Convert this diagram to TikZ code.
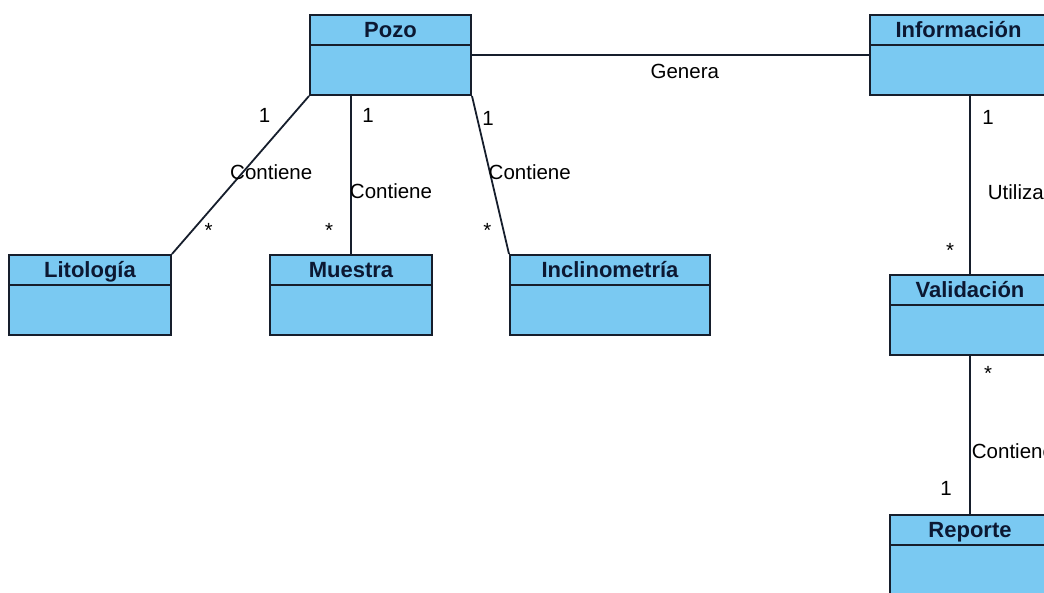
\documentclass[tikz,border=0pt]{standalone}
\usepackage{fontspec}
\setmainfont{Liberation Sans}
\definecolor{celeste}{RGB}{122,201,242}
\definecolor{linea}{RGB}{22,30,44}
\definecolor{nombre}{RGB}{12,24,50}

\begin{document}
\begin{tikzpicture}
		[x=1pt, y=-1pt,
		 clase/.style= {draw=linea, fill=celeste, line width=2pt, anchor=north west,
			inner sep=0pt, text height=22.5pt, text depth=57.5pt, text=nombre,
			font=\fontsize{22}{24}\selectfont\bfseries,
			path picture={\draw[linea, line width=2pt]
				([yshift=-29.5pt]path picture bounding box.north west) --
				([yshift=-29.5pt]path picture bounding box.north east);}},
		 rel/.style= {draw=linea, line width=1.8pt},
		 rol/.style= {font=\fontsize{20.5}{22}\selectfont, inner sep=0pt}]

		\useasboundingbox (0,0) rectangle (1044,592);
		\clip (0,0) rectangle (1044,592);

		\node[clase, minimum width=161pt] (pozo) at (309,14) {Pozo};
		\node[clase, minimum width=177pt] (info) at (869,14) {Información};
		\node[clase, minimum width=162pt] (lito) at (8,254) {Litología};
		\node[clase, minimum width=162pt] (muestra) at (269,254) {Muestra};
		\node[clase, minimum width=200pt] (inclino) at (509,254) {Inclinometría};
		\node[clase, minimum width=160pt] (valida) at (889,274) {Validación};
		\node[clase, minimum width=160pt] (reporte) at (889,514) {Reporte};

		\draw[rel] (pozo.east) -- node[rol, pos=0.536, yshift=-16pt] {Genera} (info.west);

		\draw[rel] (pozo.south west) --
			node[rol, pos=0.12, xshift=-28pt] {1}
			node[rol, pos=0.48, xshift=28pt] {Contiene}
			node[rol, pos=0.85, xshift=16pt] {*}
			(lito.north east);
		\draw[rel] (pozo.south -| muestra.north) --
			node[rol, pos=0.12, xshift=17pt] {1}
			node[rol, pos=0.60, xshift=40pt] {Contiene}
			node[rol, pos=0.85, xshift=-22pt] {*}
			(muestra.north);
		\draw[rel] (pozo.south east) --
			node[rol, pos=0.14, xshift=11pt] {1}
			node[rol, pos=0.48, xshift=40pt] {Contiene}
			node[rol, pos=0.85, xshift=-16pt] {*}
			(inclino.north west);

		\draw[rel] (info.south -| valida.north) --
			node[rol, pos=0.12, xshift=18pt] {1}
			node[rol, pos=0.54, anchor=west, xshift=17pt] {Utiliza}
			node[rol, pos=0.87, xshift=-20pt] {*}
			(valida.north);
		\draw[rel] (valida.south) --
			node[rol, pos=0.11, xshift=18pt] {*}
			node[rol, pos=0.60, anchor=west, xshift=1pt] {Contiene}
			node[rol, pos=0.84, xshift=-24pt] {1}
			(reporte.north);

	\end{tikzpicture}
\end{document}
